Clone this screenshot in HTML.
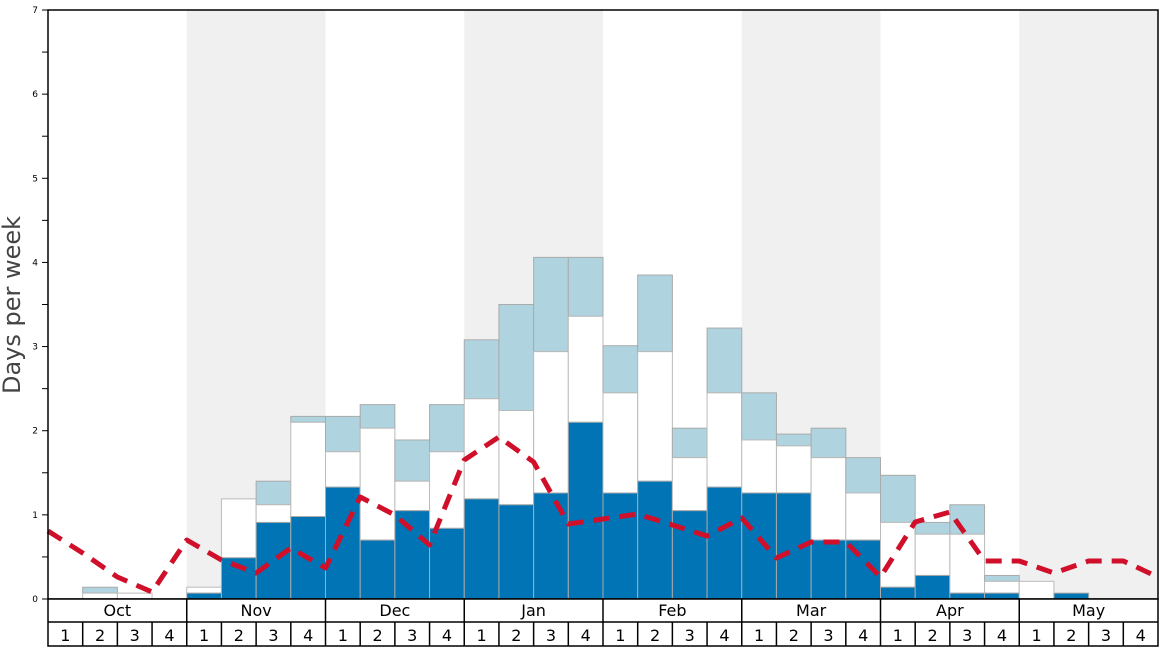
<!DOCTYPE html>
<html><head><meta charset="utf-8"><style>
body{margin:0;background:#fff}
svg{display:block;font-family:"DejaVu Sans","Liberation Sans",sans-serif}
</style></head><body>
<svg id="s" width="1168" height="648" xmlns="http://www.w3.org/2000/svg"></svg>
<script>
const s=document.getElementById('s');
let h='';
const L=48,R=1158,T=10,B=599,W=(R-L)/32,u=(B-T)/7;
const Y=v=>B-v*u;
for(const m of [1,3,5,7]) h+=`<rect x="${L+m*4*W}" y="${T}" width="${4*W}" height="${B-T}" fill="#f0f0f0"/>`;
const d=[[0,0,0],[0,.07,.14],[0,.07,.07],[0,0,0],[.07,.14,.14],[.49,1.19,1.19],[.91,1.12,1.40],[.98,2.10,2.17],
[1.33,1.75,2.17],[.70,2.03,2.31],[1.05,1.40,1.89],[.84,1.75,2.31],[1.19,2.38,3.08],[1.12,2.24,3.50],[1.26,2.94,4.06],[2.10,3.36,4.06],
[1.26,2.45,3.01],[1.40,2.94,3.85],[1.05,1.68,2.03],[1.33,2.45,3.22],[1.26,1.89,2.45],[1.26,1.82,1.96],[.70,1.68,2.03],[.70,1.26,1.68],
[.14,.91,1.47],[.28,.77,.91],[.07,.77,1.12],[.07,.21,.28],[0,.21,.21],[.07,.07,.07],[0,0,0],[0,0,0]];
d.forEach((b,i)=>{const x=L+i*W;
 if(b[2]>b[1])h+=`<rect x="${x}" y="${Y(b[2])}" width="${W}" height="${(b[2]-b[1])*u}" fill="#afd4e0" stroke="#aaa" stroke-width="1"/>`;
 if(b[1]>b[0])h+=`<rect x="${x}" y="${Y(b[1])}" width="${W}" height="${(b[1]-b[0])*u}" fill="#fff" stroke="#bbb" stroke-width="1"/>`;
 if(b[0]>0)h+=`<rect x="${x}" y="${Y(b[0])}" width="${W}" height="${b[0]*u}" fill="#0074b4" stroke="#aaa" stroke-width="1"/>`;
});
const ly=[531,553,577,592,540,560,573,548,568,497,515,545,460,437,462,524,519,514,525,536,518,558,542,542,577,522,512,561,561,573,561,561,577];
h+=`<polyline points="${ly.map((y,k)=>(L+k*W)+','+y).join(' ')}" fill="none" stroke="#d0102a" stroke-width="5" stroke-dasharray="16,10" stroke-linejoin="round"/>`;
h+=`<rect x="${L}" y="${T}" width="${R-L}" height="${B-T}" fill="none" stroke="#000" stroke-width="1.5"/>`;
for(let v=0;v<=7;v+=.5){const y=Y(v);h+=`<line x1="${L-6}" x2="${L}" y1="${y}" y2="${y}" stroke="#000"/>`;
 if(v%1==0)h+=`<text x="${L-10}" y="${y+3}" font-size="9" text-anchor="end">${v}</text>`;}
h+=`<text transform="translate(20,305) rotate(-90)" font-size="24" fill="#444" text-anchor="middle">Days per week</text>`;
h+=`<rect x="${L}" y="${B}" width="${R-L}" height="47" fill="#fff" stroke="#000" stroke-width="1.5"/>`;
h+=`<line x1="${L}" x2="${R}" y1="622" y2="622" stroke="#000" stroke-width="1.5"/>`;
const ms=['Oct','Nov','Dec','Jan','Feb','Mar','Apr','May'];
ms.forEach((m,i)=>{const x=L+i*4*W;
 if(i>0)h+=`<line x1="${x}" x2="${x}" y1="${B}" y2="646" stroke="#000" stroke-width="1.5"/>`;
 h+=`<text x="${x+2*W}" y="616" font-size="16" text-anchor="middle">${m}</text>`;
 for(let k=0;k<4;k++){const wx=x+k*W;if(k>0)h+=`<line x1="${wx}" x2="${wx}" y1="622" y2="646" stroke="#000" stroke-width="1.5"/>`;
 h+=`<text x="${wx+W/2}" y="641" font-size="16" text-anchor="middle">${k+1}</text>`;}
});
s.innerHTML=h;
</script>
</body></html>
